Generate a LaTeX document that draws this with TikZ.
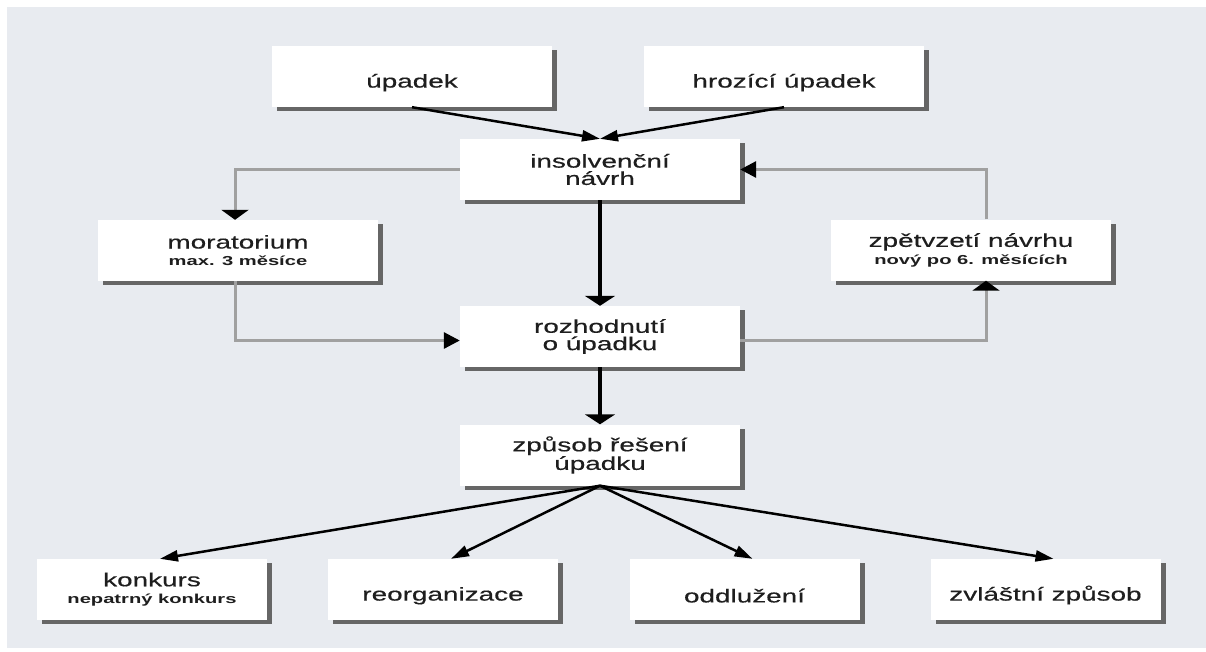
\documentclass[tikz,border=0pt]{standalone}
\usepackage{fontspec}
\setmainfont{Liberation Sans}[FakeStretch=1.5,FakeBold=0.4]
\newfontfamily\notefont{Liberation Sans}[FakeStretch=1.55]
\usetikzlibrary{arrows.meta,shadows}
\definecolor{bgcol}{RGB}{232,235,240}
\definecolor{linegray}{RGB}{160,160,160}
\definecolor{shadowgray}{RGB}{102,102,102}
\definecolor{textcol}{RGB}{30,30,30}
\newcommand{\note}[1]{{\notefont\bfseries\fontsize{13}{14.5}\selectfont #1}}
\tikzset{
  box/.style={fill=white, minimum width=280pt, minimum height=61pt, inner sep=0pt, align=center,
    text=textcol, execute at begin node={\rule{0pt}{26pt}},
    drop shadow={shadow xshift=5pt, shadow yshift=-4pt, fill=shadowgray, opacity=1},
    font=\fontsize{18.6}{17.3}\selectfont},
  endbox/.style={box, minimum width=230pt},
  slant/.style={black, line width=2.5pt, -{Triangle[length=18pt,width=11pt]}},
  down/.style={black, line width=4pt, -{Triangle[length=10pt,width=30pt]}},
  link/.style={linegray, line width=3pt},
  linkdown/.style={link, -{Triangle[black,length=10pt,width=27pt]}},
  linkside/.style={link, -{Triangle[black,length=16pt,width=16pt]}},
}
\begin{document}
\begin{tikzpicture}[x=1pt,y=-1pt]
            \useasboundingbox (0,0) rectangle (1206,651);
            \fill[bgcol] (7,7) rectangle (1206,648);
            \node[box] (upadek) at (412,76.5) {úpadek};
            \node[box] (hrozici) at (784,76.5) {hrozící úpadek};
            \node[box] (insolvencni) at (600,169.5) {insolvenční\\návrh};
            \node[box] (moratorium) at (238,250.5) {moratorium\\\note{max. 3 měsíce}};
            \node[box] (zpetvzeti) at (971,250) {zpětvzetí návrhu\\\note{nový po 6. měsících}};
            \node[box] (rozhodnuti) at (600,336.5) {rozhodnutí\\o úpadku};
            \node[box] (zpusob) at (600,455) {způsob řešení\\úpadku};
            \node[endbox] (konkurs) at (152,589.5) {konkurs\\\note{nepatrný konkurs}};
            \node[endbox] (reorganizace) at (443,589.5) {reorganizace};
            \node[endbox] (oddluzeni) at (744.5,589.5) {oddlužení};
            \node[endbox] (zvlastni) at (1045.5,589.5) {zvláštní způsob};
            \draw[slant] (upadek.south) -- (insolvencni.north);
            \draw[slant] (hrozici.south) -- (insolvencni.north);
            \draw[down] (insolvencni) -- (rozhodnuti);
            \draw[down] (rozhodnuti) -- (zpusob);
            \draw[linkdown] (insolvencni.west) -| ([xshift=-3pt]moratorium.north);
            \draw[linkside] ([xshift=-3pt]moratorium.south) |- ([yshift=-4pt]rozhodnuti.west);
            \draw[linkdown] ([yshift=-4pt]rozhodnuti.east) -| ([xshift=15pt]zpetvzeti.south);
            \draw[linkside] ([xshift=15pt]zpetvzeti.north) |- (insolvencni.east);
            \foreach \target in {konkurs,reorganizace,oddluzeni,zvlastni}
              \draw[slant] (zpusob.south) -- ([xshift=8pt]\target.north);
        \end{tikzpicture}
\end{document}
